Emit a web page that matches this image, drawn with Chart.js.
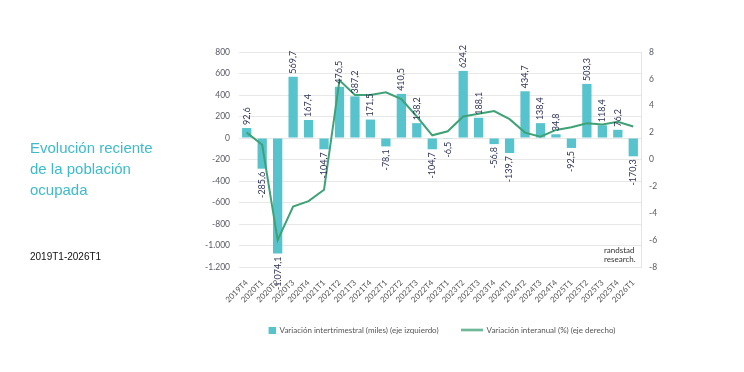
<!DOCTYPE html>
<html>
<head>
<meta charset="utf-8">
<script src="https://cdn.jsdelivr.net/npm/chart.js@4"></script>
<style>
  html, body { margin: 0; padding: 0; background: #fff; }
  #wrap { position: relative; width: 744px; height: 372px; }
  #chart { position: absolute; left: 0; top: 0; }
  .titulo { position: absolute; left: 30px; top: 137px; color: #3cbccb; font-family: "Liberation Sans", sans-serif; font-size: 15px; line-height: 21px; }
  .periodo { position: absolute; left: 30px; top: 251px; color: #111; font-family: "Liberation Sans", sans-serif; font-size: 10px; }
  .marca { position: absolute; left: 604px; top: 246px; color: #333; font-family: "Lato", sans-serif; font-size: 8px; line-height: 9px; }
</style>
</head>
<body>
<div id="wrap">
  <canvas id="chart" width="744" height="372"></canvas>
  <div class="titulo">Evolución reciente<br>de la población<br>ocupada</div>
  <div class="periodo">2019T1-2026T1</div>
  <div class="marca">randstad<br>research.</div>
</div>
<script>
var trimestres = ['2019T4', '2020T1', '2020T2', '2020T3', '2020T4', '2021T1', '2021T2', '2021T3', '2021T4',
    '2022T1', '2022T2', '2022T3', '2022T4', '2023T1', '2023T2', '2023T3', '2023T4',
    '2024T1', '2024T2', '2024T3', '2024T4', '2025T1', '2025T2', '2025T3', '2025T4', '2026T1'];
// variacion intertrimestral (miles)
var varTrim = [92.6, -285.6, -1074.1, 569.7, 167.4, -104.7, 476.5, 387.2, 171.5,
    -78.1, 410.5, 138.2, -104.7, -6.5, 624.2, 188.1, -56.8,
    -139.7, 434.7, 138.4, 34.8, -92.5, 503.3, 118.4, 76.2, -170.3];
// variacion interanual (%)
var varAnual = [2.0, 1.1, -6.0, -3.5, -3.1, -2.25, 5.9, 4.8, 4.8,
    5.0, 4.5, 3.2, 1.8, 2.1, 3.2, 3.4, 3.6,
    3.0, 2.0, 1.7, 2.2, 2.4, 2.7, 2.6, 2.8, 2.45];
var ticksIzq = [-1200, -1000, -800, -600, -400, -200, 0, 200, 400, 600, 800];
var ticksDer = [-8, -6, -4, -2, 0, 2, 4, 6, 8];

var colorBarra = '#57c3cd';
var colorLinea = '#3fa276';
var fuente = 'Lato, "Open Sans", sans-serif';

function fmtNum(v, dec) {
    var neg = v < 0;
    var s = Math.abs(v).toFixed(dec);
    var partes = s.split('.');
    var ent = partes[0].replace(/\B(?=(\d{3})+(?!\d))/g, '.');
    var r = ent + (partes.length > 1 ? ',' + partes[1] : '');
    return (neg ? '-' : '') + r;
}

// iconos de la leyenda (22px de ancho los dos)
function iconoBarra() {
    var c = document.createElement('canvas');
    c.width = 22; c.height = 7;
    var x = c.getContext('2d');
    x.fillStyle = colorBarra;
    x.fillRect(15, 0, 7, 7);
    return c;
}
function iconoLinea() {
    var c = document.createElement('canvas');
    c.width = 22; c.height = 7;
    var x = c.getContext('2d');
    x.strokeStyle = colorLinea;
    x.lineWidth = 2;
    x.beginPath(); x.moveTo(0, 3.5); x.lineTo(22, 3.5); x.stroke();
    return c;
}

// etiquetas verticales sobre las barras
var etiquetas = {
    id: 'etiquetas',
    afterDatasetsDraw: function (chart) {
        var meta = chart.getDatasetMeta(1);
        var ctx = chart.ctx;
        ctx.save();
        ctx.font = '9px ' + fuente;
        ctx.fillStyle = '#2f3457';
        ctx.textBaseline = 'middle';
        meta.data.forEach(function (bar, i) {
            var v = varTrim[i];
            ctx.save();
            ctx.translate(bar.x, v >= 0 ? bar.y - 3 : bar.y + 3);
            ctx.rotate(-Math.PI / 2);
            ctx.textAlign = v >= 0 ? 'left' : 'right';
            ctx.fillText(fmtNum(v, 1), 0, 0);
            ctx.restore();
        });
        ctx.restore();
    }
};

new Chart(document.getElementById('chart'), {
    data: {
        labels: trimestres,
        datasets: [
            {
                type: 'line',
                label: 'Variación interanual (%) (eje derecho)',
                data: varAnual,
                yAxisID: 'y2',
                borderColor: colorLinea,
                backgroundColor: colorLinea,
                borderWidth: 2,
                pointRadius: 0,
                tension: 0,
                pointStyle: iconoLinea(),
                order: 0
            },
            {
                type: 'bar',
                label: 'Variación intertrimestral (miles) (eje izquierdo)',
                data: varTrim,
                yAxisID: 'y',
                backgroundColor: colorBarra,
                barPercentage: 0.6,
                categoryPercentage: 1,
                pointStyle: iconoBarra(),
                order: 1
            }
        ]
    },
    options: {
        responsive: false,
        animation: false,
        layout: { padding: { left: 185, right: 60, top: 52, bottom: 28 } },
        plugins: {
            legend: {
                position: 'bottom',
                reverse: true,
                labels: {
                    usePointStyle: true,
                    pointStyleWidth: 22,
                    font: { family: fuente, size: 8 },
                    color: '#555',
                    padding: 22
                }
            },
            tooltip: { enabled: false }
        },
        scales: {
            x: {
                grid: { display: false },
                border: { display: false },
                ticks: {
                    font: { family: fuente, size: 8 },
                    color: '#555',
                    minRotation: 45,
                    maxRotation: 45,
                    autoSkip: false,
                    padding: 3
                },
                afterFit: function (s) { s.height = 37; }
            },
            y: {
                position: 'left',
                min: -1200,
                max: 800,
                afterBuildTicks: function (s) { s.ticks = ticksIzq.map(function (v) { return { value: v }; }); },
                grid: { color: '#e8e8e8', drawTicks: false },
                border: { display: false },
                ticks: {
                    font: { family: fuente, size: 8.5 },
                    color: '#5a5a66',
                    padding: 9,
                    callback: function (v) { return fmtNum(v, 0); }
                },
                afterFit: function (s) { s.width = 54; }
            },
            y2: {
                position: 'right',
                min: -8,
                max: 8,
                afterBuildTicks: function (s) { s.ticks = ticksDer.map(function (v) { return { value: v }; }); },
                grid: { display: false, drawTicks: false },
                border: { display: true, color: '#e4e4e4' },
                ticks: {
                    font: { family: fuente, size: 8.5 },
                    color: '#5a5a66',
                    padding: 8
                },
                afterFit: function (s) { s.width = 43; }
            }
        }
    },
    plugins: [etiquetas]
});
</script>
</body>
</html>
